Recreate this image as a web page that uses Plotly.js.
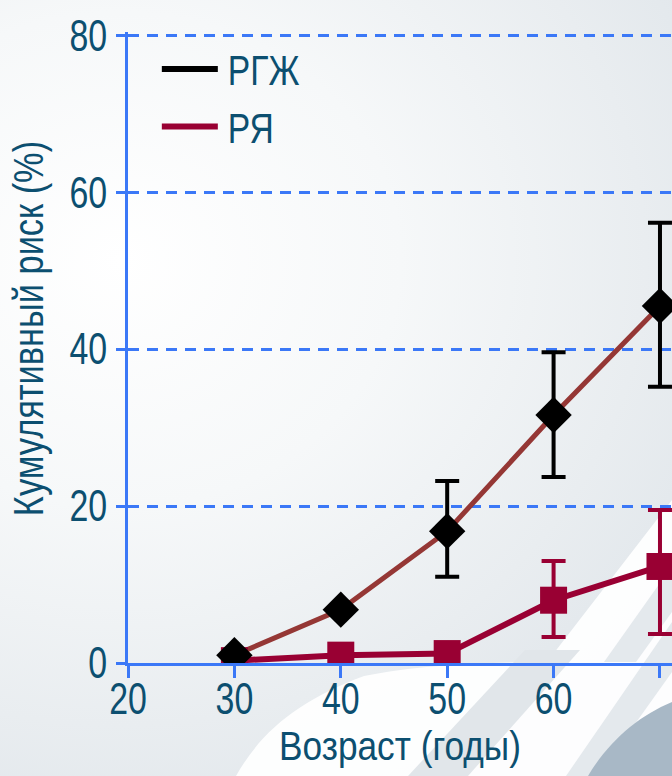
<!DOCTYPE html>
<html>
<head>
<meta charset="utf-8">
<script src="https://cdn.plot.ly/plotly-3.0.1.min.js"></script>
<style>
  html, body { margin: 0; padding: 0; }
  #wrap {
    position: relative; width: 672px; height: 776px; overflow: hidden;
    background: radial-gradient(ellipse 700px 620px at 120px 260px, #ffffff 0%, #f6f8f9 40%, #e9edf0 75%, #dfe5ea 100%);
  }
  #bg { position: absolute; left: 0; top: 0; }
  #chart { position: absolute; left: 0; top: 0; width: 672px; height: 776px; }
</style>
</head>
<body>
<div id="wrap">
  <svg id="bg" width="672" height="776" viewBox="0 0 672 776">
    <!-- white swoosh -->
    <path d="M236,776 C262,730 300,700 364,676 C420,664 500,662 547,662 L672,500 L672,776 Z" fill="#ffffff" opacity="0.92"/>
    <!-- grey diagonal stripes -->
    <path d="M408,776 L468,776 L580,650 L525,650 Z" fill="#e1e6ea"/>
    <path d="M566,776 L598,776 L672,672 L672,622 Z" fill="#e4e9ed"/>
    <path d="M604,662 L636,662 L672,612 L672,566 Z" fill="#e4e9ed"/>
    <!-- dark corner arc -->
    <path d="M588,776 C608,742 638,716 672,702 L672,776 Z" fill="#a8b8c6"/>
  </svg>
  <div id="chart"></div>
</div>
<script>
// Data
const ages = [30, 40, 50, 60, 70];
const rgzh = [1.0, 6.8, 16.8, 31.6, 45.5];
const rgzhErrPlus = [0, 0, 6.4, 8.0, 10.6];
const rgzhErrMinus = [0, 0, 5.8, 7.9, 10.3];
const rya = [0.3, 1.0, 1.2, 8.0, 12.3];
const ryaErrPlus = [0, 0, 0, 5.0, 7.2];
const ryaErrMinus = [0, 0, 0, 4.7, 8.6];
const seriesNames = ['РГЖ', 'РЯ'];
const xTicks = [20, 30, 40, 50, 60, 70];
const yTicks = [0, 20, 40, 60, 80];

const textColor = '#0c4f70';
const axisBlue = '#3b78f7';
const brown = '#953735';
const red = '#990033';
const font = 'Liberation Sans, Arial, sans-serif';

const traces = [
  { x: ages, y: rgzh, mode: 'lines', line: { color: brown, width: 5 }, showlegend: false, hoverinfo: 'skip' },
  { x: ages, y: rya, mode: 'lines+markers', line: { color: red, width: 6 },
    marker: { symbol: 'square', size: 27, color: red },
    error_y: { type: 'data', symmetric: false, array: ryaErrPlus, arrayminus: ryaErrMinus, color: red, thickness: 4, width: 12 },
    showlegend: false },
  { x: ages, y: rgzh, mode: 'markers',
    marker: { symbol: 'diamond', size: 28, color: '#000000' },
    error_y: { type: 'data', symmetric: false, array: rgzhErrPlus, arrayminus: rgzhErrMinus, color: '#000000', thickness: 4, width: 12 },
    showlegend: false },
  { x: [null], y: [null], mode: 'lines', name: seriesNames[0], line: { color: '#000000', width: 6 } },
  { x: [null], y: [null], mode: 'lines', name: seriesNames[1], line: { color: red, width: 6 } }
];

const layout = {
  width: 672, height: 776,
  margin: { l: 128, r: 0, t: 32, b: 113 },
  paper_bgcolor: 'rgba(0,0,0,0)',
  plot_bgcolor: 'rgba(0,0,0,0)',
  font: { family: font, color: textColor, size: 40 },
  showlegend: true,
  legend: { x: 0.053, y: 0.995, xanchor: 'left', yanchor: 'top', bgcolor: 'rgba(0,0,0,0)',
            font: { family: font, size: 42, color: textColor }, itemwidth: 56, tracegroupgap: 0 },
  xaxis: {
    range: [20, 71.13], tickvals: xTicks, ticktext: xTicks.map(String),
    showline: true, linecolor: axisBlue, linewidth: 3,
    ticks: 'outside', ticklen: 12, tickwidth: 3, tickcolor: axisBlue,
    ticklabelstandoff: -17,
    showgrid: false, zeroline: false,
    tickfont: { family: font, size: 44, color: textColor },
    title: { text: 'Возраст (годы)', font: { family: font, size: 41, color: textColor }, standoff: 6 }
  },
  yaxis: {
    range: [0, 80.4], tickvals: yTicks, ticktext: yTicks.map(String),
    showline: true, linecolor: axisBlue, linewidth: 3,
    ticks: 'outside', ticklen: 9, tickwidth: 3, tickcolor: axisBlue,
    showgrid: true, gridcolor: axisBlue, gridwidth: 3, griddash: '11px,8px',
    zeroline: false,
    tickfont: { family: font, size: 44, color: textColor },
    title: { text: 'Кумулятивный риск (%)', font: { family: font, size: 43, color: textColor }, standoff: 2 }
  }
};

// condense text horizontally (reference uses a narrow typeface)
function condense(sel, s, dx) {
  document.querySelectorAll(sel).forEach(t => {
    const x = parseFloat(t.getAttribute('x')) || 0;
    const y = parseFloat(t.getAttribute('y')) || 0;
    const tr = t.getAttribute('transform') || '';
    t.setAttribute('transform', tr + ' translate(' + (x + (dx || 0)) + ',' + y + ') scale(' + s + ',1) translate(' + (-x) + ',' + (-y) + ')');
  });
}

Plotly.newPlot('chart', traces, layout, { displayModeBar: false, staticPlot: true }).then(() => {
  condense('#chart .xtick text, #chart .ytick text', 0.77);
  condense('#chart .legendtext', 0.8, 5);
  condense('#chart .xtitle', 0.86);
  condense('#chart .ytitle', 0.8, 19);
});
</script>
</body>
</html>
